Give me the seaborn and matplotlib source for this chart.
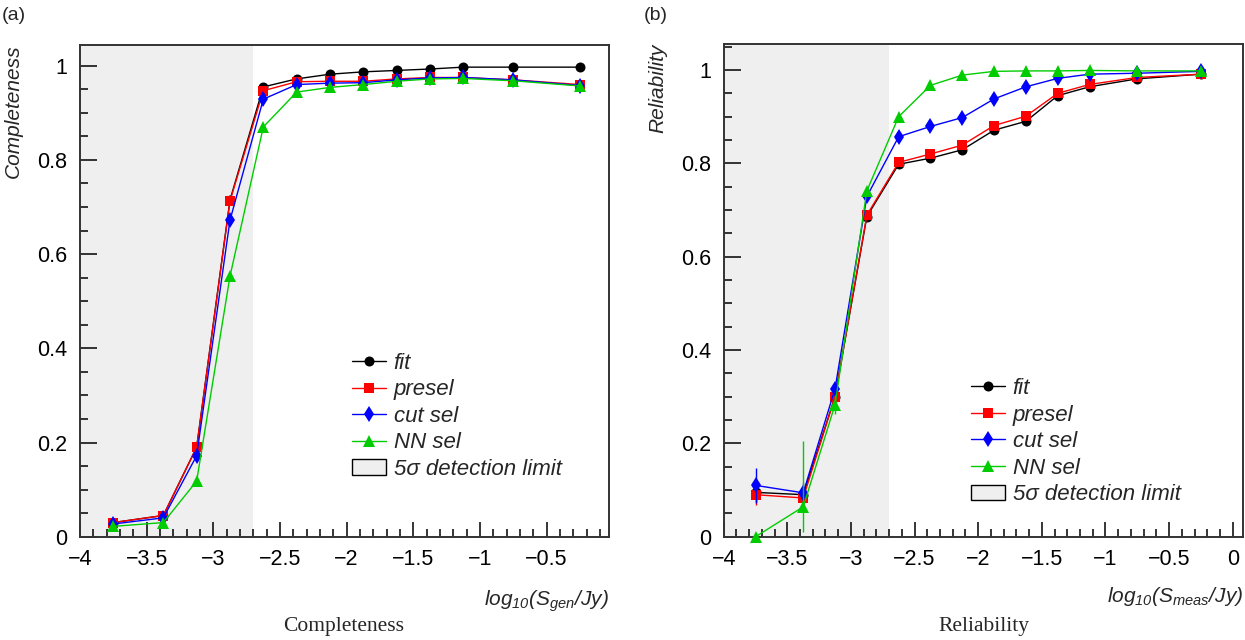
import numpy as np
import pandas as pd
import matplotlib.pyplot as plt
import seaborn as sns
from matplotlib.lines import Line2D
from matplotlib.patches import Patch
from matplotlib.ticker import MultipleLocator, FuncFormatter

sns.set_style("white")
plt.rcParams["font.family"] = ["Liberation Sans", "DejaVu Sans"]
plt.rcParams["mathtext.fontset"] = "custom"
plt.rcParams["mathtext.it"] = "Liberation Sans:italic"
plt.rcParams["mathtext.rm"] = "Liberation Sans:italic"


# ── Data ──────────────────────────────────────────────────────────────────────
log_flux = [-3.75, -3.375, -3.125, -2.875, -2.625, -2.375, -2.125,
            -1.875, -1.625, -1.375, -1.125, -0.75, -0.25]

series = ["fit", "presel", "cut sel", "NN sel"]

comp_fit = [0.030, 0.045, 0.190, 0.715, 0.955, 0.972, 0.982,
            0.987, 0.990, 0.993, 0.997, 0.997, 0.997]
comp_presel = [0.030, 0.045, 0.190, 0.713, 0.947, 0.966, 0.967,
               0.967, 0.972, 0.975, 0.975, 0.970, 0.960]
comp_cut = [0.027, 0.040, 0.172, 0.672, 0.929, 0.960, 0.963,
            0.964, 0.970, 0.974, 0.975, 0.970, 0.958]
comp_nn = [0.022, 0.030, 0.118, 0.553, 0.870, 0.944, 0.954,
           0.960, 0.967, 0.972, 0.973, 0.968, 0.957]

rel_fit = [0.095, 0.090, 0.300, 0.686, 0.798, 0.811, 0.829,
           0.871, 0.890, 0.945, 0.964, 0.981, 0.991]
rel_presel = [0.090, 0.083, 0.300, 0.689, 0.802, 0.820, 0.839,
              0.881, 0.901, 0.950, 0.969, 0.984, 0.991]
rel_cut = [0.110, 0.094, 0.317, 0.729, 0.857, 0.879, 0.898,
           0.938, 0.964, 0.982, 0.991, 0.993, 0.997]
rel_nn = [0.000, 0.064, 0.283, 0.741, 0.900, 0.967, 0.989,
          0.997, 0.998, 0.998, 0.999, 0.998, 0.998]

# asymmetric error bars on reliability (only the faint bins are visible)
rel_fit_err = [[0.020, 0.015, 0.010] + [0.0] * 10, [0.020, 0.015, 0.010] + [0.0] * 10]
rel_presel_err = [[0.022, 0.015, 0.010] + [0.0] * 10, [0.020, 0.015, 0.010] + [0.0] * 10]
rel_cut_err = [[0.038, 0.020, 0.012] + [0.0] * 10, [0.038, 0.020, 0.012] + [0.0] * 10]
rel_nn_err = [[0.000, 0.054, 0.020] + [0.0] * 10, [0.000, 0.140, 0.020] + [0.0] * 10]

detection_limit = -2.7

comp_values = [comp_fit, comp_presel, comp_cut, comp_nn]
rel_values = [rel_fit, rel_presel, rel_cut, rel_nn]
rel_errors = [rel_fit_err, rel_presel_err, rel_cut_err, rel_nn_err]

colours = ["black", "#ff0000", "#0000ff", "#00cc00"]
markers = ["o", "s", "d", "^"]
msizes = [7.2, 6.6, 8.0, 9.0]


def long_form(values):
    frames = []
    for name, vals in zip(series, values):
        frames.append(pd.DataFrame({"logS": log_flux, "value": vals, "series": name}))
    return pd.concat(frames, ignore_index=True)


def tick_fmt(v, pos):
    s = f"{v:g}"
    return s.replace("-", "\u2212")


def style_axes(ax, xlim, ylim):
    ax.set_xlim(*xlim)
    ax.set_ylim(*ylim)
    ax.axvspan(xlim[0], detection_limit, color="#efefef", zorder=0, lw=0)
    ax.xaxis.set_major_locator(MultipleLocator(0.5))
    ax.xaxis.set_minor_locator(MultipleLocator(0.1))
    ax.yaxis.set_major_locator(MultipleLocator(0.2))
    ax.yaxis.set_minor_locator(MultipleLocator(0.05))
    ax.xaxis.set_major_formatter(FuncFormatter(tick_fmt))
    ax.yaxis.set_major_formatter(FuncFormatter(tick_fmt))
    ax.tick_params(axis="both", which="both", direction="in", colors="black",
                   bottom=True, left=True, top=False, right=False,
                   labelsize=15.5, width=1.1)
    ax.tick_params(axis="x", which="major", length=11, pad=9)
    ax.tick_params(axis="x", which="minor", length=5.5)
    ax.tick_params(axis="y", which="major", length=12, pad=9)
    ax.tick_params(axis="y", which="minor", length=6)
    for sp in ax.spines.values():
        sp.set_color("#333333")
        sp.set_linewidth(1.4)
    ax.set_xlabel("")
    ax.set_ylabel("")


def draw_panel(ax, values, errors=None):
    df = long_form(values)
    for i, name in enumerate(series):
        sub = df[df["series"] == name]
        if errors is not None:
            ax.errorbar(sub["logS"], sub["value"], yerr=np.array(errors[i]),
                        fmt="none", ecolor=colours[i], elinewidth=1.0,
                        capsize=0, zorder=2 + i)
        sns.lineplot(data=sub, x="logS", y="value", ax=ax, color=colours[i],
                     marker=markers[i], markersize=msizes[i], markeredgewidth=0,
                     linewidth=1.0, errorbar=None, legend=False, zorder=3 + i,
                     clip_on=False)


def add_legend(ax, anchor):
    handles = [Line2D([0], [0], color=c, marker=m, markersize=s,
                      markeredgewidth=0, lw=1.0)
               for c, m, s in zip(colours, markers, msizes)]
    handles.append(Patch(facecolor="#efefef", edgecolor="black", lw=1.0))
    labels = series + ["5\u03c3 detection limit"]
    leg = ax.legend(handles, labels, loc="upper left", bbox_to_anchor=anchor,
                    frameon=False, fontsize=16, handlelength=1.5,
                    handletextpad=0.35, labelspacing=0.25, borderpad=0,
                    borderaxespad=0)
    for t in leg.get_texts():
        t.set_fontstyle("italic")


fig = plt.figure(figsize=(12.45, 6.4), dpi=100)
ax_c = fig.add_axes([80 / 1245, 1 - 536.7 / 640, 529 / 1245, 491.7 / 640])
ax_r = fig.add_axes([723.7 / 1245, 1 - 536.7 / 640, 519.3 / 1245, 492.4 / 640])

# ── (a) Completeness ─────────────────────────────────────────────────────────
draw_panel(ax_c, comp_values)
style_axes(ax_c, (-4, -0.032), (0, 1.044))
add_legend(ax_c, (0.515, 0.374))

# ── (b) Reliability ──────────────────────────────────────────────────────────
draw_panel(ax_r, rel_values, rel_errors)
style_axes(ax_r, (-4, 0.081), (0, 1.055))
add_legend(ax_r, (0.477, 0.322))

# ── Labels ───────────────────────────────────────────────────────────────────
fig.text(2 / 1245, 1 - 15 / 640, "(a)", fontsize=14, ha="left", va="center")
fig.text(644 / 1245, 1 - 15 / 640, "(b)", fontsize=14, ha="left", va="center")

fig.text(13 / 1245, 1 - 44 / 640, "Completeness", rotation=90, fontsize=15,
         fontstyle="italic", ha="center", va="top")
fig.text(658 / 1245, 1 - 44 / 640, "Reliability", rotation=90, fontsize=15,
         fontstyle="italic", ha="center", va="top")

fig.text(609 / 1245, 1 - 601 / 640, r"$log_{10}(S_{gen}/Jy)$",
         fontsize=15, ha="right", va="center")
fig.text(1243 / 1245, 1 - 596 / 640, r"$log_{10}(S_{meas}/Jy)$",
         fontsize=15, ha="right", va="center")

fig.text(343.5 / 1245, 1 - 627 / 640, "Completeness", family="Liberation Serif",
         fontsize=15.5, ha="center", va="center")
fig.text(984 / 1245, 1 - 627 / 640, "Reliability", family="Liberation Serif",
         fontsize=15.5, ha="center", va="center")

fig.savefig("out.png", dpi=100)
plt.close(fig)
